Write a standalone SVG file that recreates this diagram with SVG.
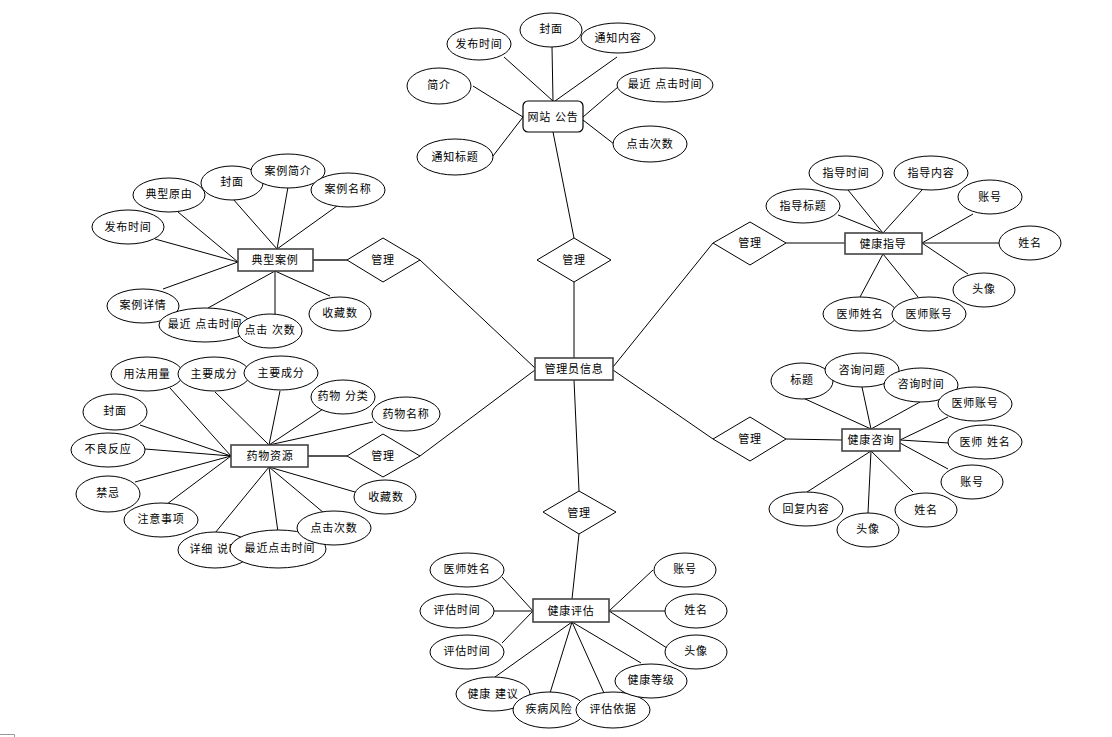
<svg xmlns="http://www.w3.org/2000/svg" width="1112" height="737" viewBox="0 0 1112 737">
<style>
.l{stroke:#000;stroke-width:1;fill:none}
.t{stroke:#555;stroke-width:2;fill:none}
ellipse{fill:#fff;stroke:#000;stroke-width:1}
.e{fill:#fff;stroke:#444;stroke-width:1.6}
.d{fill:#fff;stroke:#000;stroke-width:1}
text{font-family:"Liberation Sans","Noto Sans CJK SC",sans-serif;font-size:11px;fill:#000;text-anchor:middle;dominant-baseline:central;letter-spacing:0.8px}
</style>
<rect width="1112" height="737" fill="#fff"/>
<g id="connectors">
<line class="l" x1="552" y1="47" x2="553" y2="101"/>
<line class="l" x1="504" y1="57" x2="553" y2="101"/>
<line class="l" x1="617" y1="57" x2="555" y2="101"/>
<line class="l" x1="473" y1="86" x2="523" y2="117"/>
<line class="l" x1="493" y1="156" x2="523" y2="117"/>
<line class="l" x1="618" y1="87" x2="583" y2="117"/>
<line class="l" x1="614" y1="144" x2="583" y2="120"/>
<line class="l" x1="553" y1="132" x2="574" y2="238"/>
<line class="l" x1="574" y1="282" x2="574" y2="358"/>
<line class="l" x1="420" y1="260" x2="535" y2="368"/>
<line class="l" x1="420" y1="456" x2="535" y2="370"/>
<line class="l" x1="713" y1="243" x2="613" y2="367"/>
<line class="l" x1="713" y1="439" x2="613" y2="370"/>
<line class="l" x1="574" y1="380" x2="579" y2="491"/>
<line class="l" x1="579" y1="534" x2="572" y2="599"/>
<line class="t" x1="313" y1="260" x2="347" y2="260"/>
<line class="t" x1="308" y1="456" x2="347" y2="456"/>
<line class="l" x1="786" y1="243" x2="845" y2="243"/>
<line class="l" x1="786" y1="439" x2="842" y2="440"/>
<line class="l" x1="155" y1="239" x2="238" y2="262"/>
<line class="l" x1="178" y1="212" x2="238" y2="262"/>
<line class="l" x1="233" y1="199" x2="277" y2="249"/>
<line class="l" x1="288" y1="187" x2="277" y2="249"/>
<line class="l" x1="337" y1="206" x2="277" y2="249"/>
<line class="l" x1="163" y1="289" x2="238" y2="262"/>
<line class="l" x1="208" y1="308" x2="275" y2="271"/>
<line class="l" x1="275" y1="315" x2="275" y2="271"/>
<line class="l" x1="330" y1="296" x2="275" y2="271"/>
<line class="l" x1="170" y1="388" x2="231" y2="456"/>
<line class="l" x1="215" y1="392" x2="269" y2="445"/>
<line class="l" x1="280" y1="391" x2="269" y2="445"/>
<line class="l" x1="323" y1="409" x2="269" y2="445"/>
<line class="l" x1="373" y1="422" x2="269" y2="445"/>
<line class="l" x1="140" y1="425" x2="231" y2="456"/>
<line class="l" x1="145" y1="449" x2="231" y2="456"/>
<line class="l" x1="135" y1="482" x2="231" y2="456"/>
<line class="l" x1="163" y1="507" x2="231" y2="456"/>
<line class="l" x1="215" y1="533" x2="269" y2="467"/>
<line class="l" x1="278" y1="532" x2="269" y2="467"/>
<line class="l" x1="324" y1="513" x2="269" y2="467"/>
<line class="l" x1="355" y1="492" x2="269" y2="467"/>
<line class="l" x1="848" y1="190" x2="883" y2="233"/>
<line class="l" x1="922" y1="190" x2="883" y2="233"/>
<line class="l" x1="838" y1="215" x2="883" y2="233"/>
<line class="l" x1="973" y1="214" x2="922" y2="243"/>
<line class="l" x1="999" y1="243" x2="922" y2="243"/>
<line class="l" x1="968" y1="274" x2="922" y2="243"/>
<line class="l" x1="860" y1="297" x2="883" y2="254"/>
<line class="l" x1="918" y1="297" x2="883" y2="254"/>
<line class="l" x1="803" y1="398" x2="871" y2="429"/>
<line class="l" x1="862" y1="387" x2="871" y2="429"/>
<line class="l" x1="920" y1="402" x2="871" y2="429"/>
<line class="l" x1="948" y1="417" x2="900" y2="440"/>
<line class="l" x1="949" y1="443" x2="900" y2="440"/>
<line class="l" x1="948" y1="469" x2="900" y2="443"/>
<line class="l" x1="807" y1="492" x2="871" y2="451"/>
<line class="l" x1="868" y1="513" x2="871" y2="451"/>
<line class="l" x1="913" y1="492" x2="871" y2="451"/>
<line class="l" x1="502" y1="577" x2="533" y2="611"/>
<line class="l" x1="494" y1="611" x2="533" y2="611"/>
<line class="l" x1="502" y1="643" x2="533" y2="611"/>
<line class="l" x1="495" y1="677" x2="572" y2="622"/>
<line class="l" x1="550" y1="693" x2="572" y2="622"/>
<line class="l" x1="604" y1="693" x2="572" y2="622"/>
<line class="l" x1="641" y1="663" x2="572" y2="622"/>
<line class="l" x1="653" y1="570" x2="609" y2="611"/>
<line class="l" x1="665" y1="611" x2="609" y2="611"/>
<line class="l" x1="667" y1="648" x2="609" y2="611"/>
</g>
<g id="n-wzgg">
<rect x="523" y="101" width="60" height="31" rx="5" fill="#fff" stroke="#000" stroke-width="1.2"/>
<text x="553" y="116.5">网站 公告</text>
</g>
<g id="a-wz-fm"><ellipse cx="551" cy="30" rx="31" ry="17"/><text x="551" y="29">封面</text></g>
<g id="a-wz-fbsj"><ellipse cx="479" cy="44" rx="32" ry="16"/><text x="479" y="44">发布时间</text></g>
<g id="a-wz-tznr"><ellipse cx="618" cy="38" rx="37" ry="15"/><text x="618" y="38">通知内容</text></g>
<g id="a-wz-jj"><ellipse cx="439" cy="86" rx="32" ry="18"/><text x="439" y="85">简介</text></g>
<g id="a-wz-zjdjsj"><ellipse cx="665" cy="85" rx="48" ry="17"/><text x="665" y="84">最近 点击时间</text></g>
<g id="a-wz-tzbt"><ellipse cx="455" cy="157" rx="38" ry="18"/><text x="455" y="157">通知标题</text></g>
<g id="a-wz-djcs"><ellipse cx="650" cy="144" rx="37" ry="18"/><text x="650" y="144">点击次数</text></g>

<g id="r-top"><polygon class="d" points="574,238 611,260 574,282 537,260"/><text x="574" y="260">管理</text></g>
<g id="r-lt"><polygon class="d" points="383,238 420,260 383,282 347,260"/><text x="383" y="260">管理</text></g>
<g id="r-lb"><polygon class="d" points="383,434 420,456 383,477 347,456"/><text x="383" y="456">管理</text></g>
<g id="r-rt"><polygon class="d" points="750,222 786,243 750,265 713,243"/><text x="750" y="243">管理</text></g>
<g id="r-rb"><polygon class="d" points="750,417 786,439 750,461 713,439"/><text x="750" y="439">管理</text></g>
<g id="r-bot"><polygon class="d" points="579,491 616,512 579,534 543,512"/><text x="579" y="513">管理</text></g>

<g id="n-admin"><rect class="e" x="535" y="358" width="78" height="22"/><text x="574" y="369">管理员信息</text></g>

<g id="n-dxal"><rect class="e" x="238" y="249" width="75" height="22"/><text x="275" y="260">典型案例</text></g>
<g id="a-al-fbsj"><ellipse cx="128" cy="227" rx="36" ry="17"/><text x="128" y="227">发布时间</text></g>
<g id="a-al-dxyy"><ellipse cx="169" cy="195" rx="36" ry="17"/><text x="169" y="194">典型原由</text></g>
<g id="a-al-fm"><ellipse cx="232" cy="183" rx="31" ry="17"/><text x="232" y="182">封面</text></g>
<g id="a-al-aljj"><ellipse cx="288" cy="171" rx="37" ry="17"/><text x="288" y="171">案例简介</text></g>
<g id="a-al-almc"><ellipse cx="348" cy="190" rx="37" ry="17"/><text x="348" y="189">案例名称</text></g>
<g id="a-al-alxq"><ellipse cx="143" cy="306" rx="36" ry="17"/><text x="143" y="305">案例详情</text></g>
<g id="a-al-zjdjsj"><ellipse cx="205" cy="325" rx="46" ry="17"/><text x="205" y="324">最近 点击时间</text></g>
<g id="a-al-djcs"><ellipse cx="270" cy="331" rx="32" ry="17"/><text x="270" y="330">点击 次数</text></g>
<g id="a-al-scs"><ellipse cx="340" cy="314" rx="31" ry="17"/><text x="340" y="313">收藏数</text></g>

<g id="n-ywzy"><rect class="e" x="231" y="445" width="77" height="22"/><text x="270" y="456">药物资源</text></g>
<g id="a-yw-yfyl"><ellipse cx="147" cy="374" rx="36" ry="17"/><text x="147" y="374">用法用量</text></g>
<g id="a-yw-zycf1"><ellipse cx="214" cy="374" rx="36" ry="17"/><text x="214" y="374">主要成分</text></g>
<g id="a-yw-zycf2"><ellipse cx="281" cy="373" rx="37" ry="17"/><text x="281" y="373">主要成分</text></g>
<g id="a-yw-ywfl"><ellipse cx="343" cy="397" rx="32" ry="17"/><text x="343" y="396">药物 分类</text></g>
<g id="a-yw-ywmc"><ellipse cx="406" cy="414" rx="34" ry="17"/><text x="406" y="414">药物名称</text></g>
<g id="a-yw-fm"><ellipse cx="115" cy="412" rx="32" ry="18"/><text x="115" y="411">封面</text></g>
<g id="a-yw-blfy"><ellipse cx="108" cy="450" rx="37" ry="17"/><text x="108" y="449">不良反应</text></g>
<g id="a-yw-jj"><ellipse cx="108" cy="494" rx="32" ry="18"/><text x="108" y="493">禁忌</text></g>
<g id="a-yw-zysx"><ellipse cx="161" cy="520" rx="37" ry="17"/><text x="161" y="519">注意事项</text></g>
<g id="a-yw-xxsm"><ellipse cx="215" cy="550" rx="37" ry="18"/><text x="215" y="549">详细 说明</text></g>
<g id="a-yw-zjdjsj"><ellipse cx="278" cy="549" rx="48" ry="19"/><text x="280" y="548">最近点击时间</text></g>
<g id="a-yw-djcs"><ellipse cx="334" cy="528" rx="37" ry="17"/><text x="334" y="528">点击次数</text></g>
<g id="a-yw-scs"><ellipse cx="385" cy="497" rx="31" ry="17"/><text x="386" y="497">收藏数</text></g>

<g id="n-jkzd"><rect class="e" x="845" y="233" width="77" height="21"/><text x="883" y="243.5">健康指导</text></g>
<g id="a-zd-zdsj"><ellipse cx="846" cy="173" rx="37" ry="17"/><text x="846" y="173">指导时间</text></g>
<g id="a-zd-zdnr"><ellipse cx="931" cy="173" rx="37" ry="17"/><text x="931" y="173">指导内容</text></g>
<g id="a-zd-zdbt"><ellipse cx="803" cy="206" rx="37" ry="17"/><text x="803" y="206">指导标题</text></g>
<g id="a-zd-zh"><ellipse cx="990" cy="197" rx="32" ry="17"/><text x="990" y="197">账号</text></g>
<g id="a-zd-xm"><ellipse cx="1030" cy="243" rx="31" ry="17"/><text x="1030" y="243">姓名</text></g>
<g id="a-zd-tx"><ellipse cx="984" cy="290" rx="31" ry="17"/><text x="984" y="289">头像</text></g>
<g id="a-zd-ysxm"><ellipse cx="860" cy="314" rx="37" ry="17"/><text x="860" y="314">医师姓名</text></g>
<g id="a-zd-yszh"><ellipse cx="929" cy="314" rx="37" ry="17"/><text x="929" y="314">医师账号</text></g>

<g id="n-jkzx"><rect class="e" x="842" y="429" width="58" height="22"/><text x="871" y="440">健康咨询</text></g>
<g id="a-zx-bt"><ellipse cx="802" cy="381" rx="31" ry="18"/><text x="802" y="380">标题</text></g>
<g id="a-zx-zxwt"><ellipse cx="862" cy="370" rx="37" ry="17"/><text x="862" y="370">咨询问题</text></g>
<g id="a-zx-zxsj"><ellipse cx="921" cy="385" rx="37" ry="17"/><text x="921" y="384">咨询时间</text></g>
<g id="a-zx-yszh"><ellipse cx="975" cy="404" rx="37" ry="17"/><text x="975" y="403">医师账号</text></g>
<g id="a-zx-ysxm"><ellipse cx="985" cy="442" rx="37" ry="17"/><text x="985" y="442">医师 姓名</text></g>
<g id="a-zx-zh"><ellipse cx="972" cy="482" rx="31" ry="17"/><text x="972" y="482">账号</text></g>
<g id="a-zx-xm"><ellipse cx="926" cy="510" rx="31" ry="17"/><text x="926" y="510">姓名</text></g>
<g id="a-zx-tx"><ellipse cx="868" cy="530" rx="31" ry="17"/><text x="868" y="529">头像</text></g>
<g id="a-zx-hfnr"><ellipse cx="806" cy="509" rx="37" ry="17"/><text x="806" y="509">回复内容</text></g>

<g id="n-jkpg"><rect class="e" x="533" y="599" width="76" height="23"/><text x="571" y="610.5">健康评估</text></g>
<g id="a-pg-ysxm"><ellipse cx="467" cy="570" rx="37" ry="17"/><text x="467" y="569">医师姓名</text></g>
<g id="a-pg-pgsj1"><ellipse cx="457" cy="611" rx="37" ry="17"/><text x="457" y="610">评估时间</text></g>
<g id="a-pg-pgsj2"><ellipse cx="467" cy="652" rx="37" ry="17"/><text x="467" y="651">评估时间</text></g>
<g id="a-pg-jkjy"><ellipse cx="493" cy="694" rx="37" ry="17"/><text x="493" y="694">健康 建议</text></g>
<g id="a-pg-jbfx"><ellipse cx="549" cy="710" rx="36" ry="18"/><text x="549" y="709">疾病风险</text></g>
<g id="a-pg-pgyj"><ellipse cx="613" cy="710" rx="37" ry="18"/><text x="613" y="709">评估依据</text></g>
<g id="a-pg-jkdj"><ellipse cx="651" cy="681" rx="36" ry="17"/><text x="651" y="680">健康等级</text></g>
<g id="a-pg-zh"><ellipse cx="685" cy="570" rx="31" ry="17"/><text x="685" y="569">账号</text></g>
<g id="a-pg-xm"><ellipse cx="696" cy="611" rx="31" ry="17"/><text x="696" y="610">姓名</text></g>
<g id="a-pg-tx"><ellipse cx="696" cy="652" rx="31" ry="17"/><text x="696" y="651">头像</text></g>

<path d="M0,734.5 H14.5 V737" fill="none" stroke="#999" stroke-width="1"/>
</svg>
